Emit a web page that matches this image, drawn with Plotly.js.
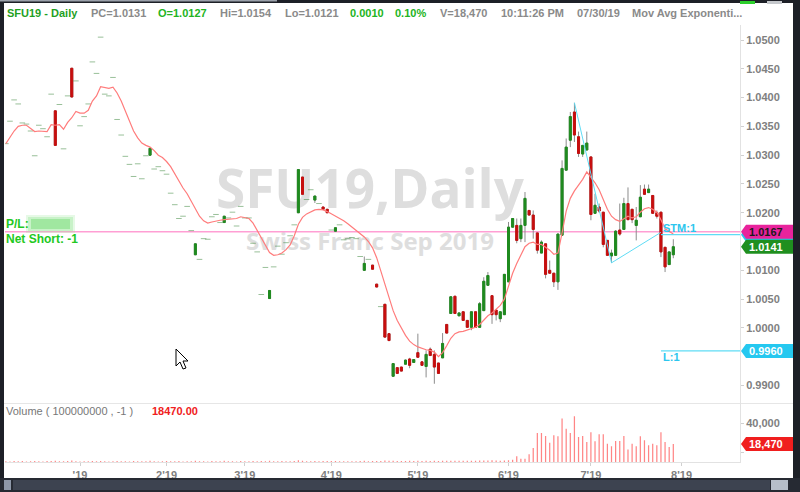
<!DOCTYPE html>
<html><head><meta charset="utf-8">
<script src="https://cdn.plot.ly/plotly-3.0.1.min.js"></script>
<style>html,body{margin:0;padding:0;background:#fff;overflow:hidden}#chart{width:800px;height:492px}</style>
</head><body><div id="chart"></div>
<script>
// ---- trading days (day numbers per month) ----
const dec18=[5,6,7,10,11,12,13,14,17,18,19,20,21,24,26,27,28,31];
const jan19=[2,3,4,7,8,9,10,11,14,15,16,17,18,22,23,24,25,28,29,30,31];
const feb19=[1,4,5,6,7,8,11,12,13,14,15,19,20,21,22,25,26,27,28];
const mar19=[1,4,5,6,7,8,11,12,13,14,15,18,19,20,21,22,25,26,27,28,29];
const apr19=[1,2,3,4,5,8,9,10,11,12,15,16,17,18,22,23,24,25,26,29,30];
const may19=[1,2,3,6,7,8,9,10,13,14,15,16,17,20,21,22,23,24,28,29,30,31];
const jun19=[3,4,5,6,7,10,11,12,13,14,17,18,19,20,21,24,25,26,27,28];
const jul19=[1,2,3,5,8,9,10,11,12,15,16,17,18,19,22,23,24,25,26,29,30];
const holidays=['2018-12-25','2019-01-01','2019-01-21','2019-02-18','2019-04-19','2019-05-27','2019-07-04'];

const open=[1.0320,1.0359,1.0396,1.0389,1.0356,1.0354,1.0342,1.0299,1.0352,1.0346,
1.0332,1.0406,1.0377,1.0388,1.0311,1.0403,1.0451,1.0429,1.0351,1.0367,
1.0389,1.0462,1.0442,1.0505,1.0406,1.0403,1.0435,1.0362,1.0335,1.0298,
1.0284,1.0263,1.0285,1.0259,1.0299,1.0300,1.0276,1.0280,1.0273,1.0267,
1.0234,1.0214,1.0190,1.0194,1.0211,1.0169,1.0127,1.0119,1.0155,1.0154,
1.0193,1.0197,1.0183,1.0183,1.0191,1.0201,1.0177,1.0211,1.0191,1.0191,
1.0147,1.0132,1.0058,1.0105,1.0051,1.0106,1.0142,1.0128,1.0148,1.0160,
1.0179,1.0200,1.0262,1.0223,1.0240,1.0222,1.0216,1.0210,1.0206,1.0170,
1.0168,1.0179,1.0153,1.0155,1.0157,1.0155,1.0124,1.0100,1.0119,1.0109,
1.0076,1.0037,1.0041,0.9990,0.9916,0.9931,0.9932,0.9937,0.9946,0.9940,
0.9957,0.9941,0.9933,0.9963,0.9954,0.9939,0.9948,1.0006,1.0025,1.0055,
1.0021,1.0028,1.0013,1.0001,1.0028,1.0001,1.0030,1.0074,1.0056,1.0031,
1.0016,1.0023,1.0080,1.0175,1.0178,1.0155,1.0178,1.0204,1.0196,1.0165,
1.0130,1.0146,1.0100,1.0095,1.0080,1.0161,1.0274,1.0326,1.0375,1.0332,
1.0302,1.0309,1.0297,1.0199,1.0210,1.0201,1.0152,1.0125,1.0126,1.0170,
1.0171,1.0216,1.0206,1.0178,1.0193,1.0241,1.0235,1.0230,1.0200,1.0201,
1.0140,1.0110,1.0127];
const high=[1.0320,1.0359,1.0396,1.0389,1.0356,1.0354,1.0342,1.0299,1.0352,1.0346,
1.0332,1.0406,1.0377,1.0388,1.0311,1.0403,1.0451,1.0429,1.0351,1.0367,
1.0389,1.0462,1.0442,1.0505,1.0406,1.0403,1.0435,1.0362,1.0335,1.0298,
1.0284,1.0263,1.0285,1.0259,1.0299,1.0312,1.0276,1.0280,1.0273,1.0267,
1.0234,1.0214,1.0190,1.0194,1.0211,1.0169,1.0146,1.0119,1.0155,1.0154,
1.0193,1.0197,1.0183,1.0194,1.0191,1.0201,1.0177,1.0211,1.0191,1.0191,
1.0147,1.0132,1.0058,1.0105,1.0065,1.0106,1.0142,1.0128,1.0148,1.0160,
1.0179,1.0275,1.0262,1.0223,1.0240,1.0229,1.0216,1.0210,1.0206,1.0170,
1.0174,1.0179,1.0153,1.0155,1.0157,1.0155,1.0124,1.0124,1.0119,1.0109,
1.0076,1.0037,1.0041,0.9990,0.9938,0.9931,0.9932,0.9945,0.9948,0.9945,
0.9990,0.9941,0.9961,0.9966,0.9961,0.9939,0.9991,1.0006,1.0054,1.0055,
1.0026,1.0028,1.0013,1.0028,1.0028,1.0045,1.0088,1.0097,1.0056,1.0031,
1.0028,1.0093,1.0184,1.0190,1.0190,1.0190,1.0236,1.0204,1.0204,1.0165,
1.0152,1.0146,1.0117,1.0095,1.0163,1.0291,1.0329,1.0375,1.0391,1.0341,
1.0317,1.0341,1.0297,1.0233,1.0216,1.0201,1.0152,1.0136,1.0170,1.0216,
1.0226,1.0244,1.0206,1.0210,1.0248,1.0249,1.0249,1.0230,1.0204,1.0201,
1.0140,1.0132,1.0154];
const low=[1.0320,1.0359,1.0396,1.0389,1.0356,1.0354,1.0342,1.0299,1.0352,1.0346,
1.0332,1.0406,1.0317,1.0388,1.0311,1.0403,1.0401,1.0429,1.0351,1.0367,
1.0389,1.0462,1.0442,1.0505,1.0406,1.0403,1.0435,1.0362,1.0335,1.0298,
1.0284,1.0263,1.0285,1.0259,1.0299,1.0300,1.0276,1.0280,1.0273,1.0267,
1.0234,1.0214,1.0190,1.0194,1.0211,1.0169,1.0127,1.0119,1.0155,1.0154,
1.0193,1.0197,1.0183,1.0183,1.0191,1.0201,1.0177,1.0211,1.0191,1.0191,
1.0147,1.0132,1.0058,1.0105,1.0051,1.0106,1.0142,1.0128,1.0148,1.0160,
1.0179,1.0200,1.0232,1.0223,1.0240,1.0217,1.0216,1.0206,1.0200,1.0170,
1.0168,1.0179,1.0153,1.0155,1.0157,1.0155,1.0124,1.0100,1.0119,1.0102,
1.0071,1.0037,0.9984,0.9978,0.9916,0.9921,0.9925,0.9937,0.9930,0.9940,
0.9949,0.9935,0.9914,0.9952,0.9903,0.9921,0.9948,0.9991,1.0025,1.0025,
1.0021,1.0013,1.0001,0.9996,1.0001,1.0001,1.0030,1.0074,1.0007,1.0013,
1.0010,1.0023,1.0080,1.0175,1.0147,1.0149,1.0149,1.0196,1.0155,1.0129,
1.0130,1.0086,1.0095,1.0071,1.0066,1.0161,1.0274,1.0314,1.0323,1.0297,
1.0297,1.0309,1.0187,1.0199,1.0200,1.0140,1.0126,1.0113,1.0126,1.0160,
1.0171,1.0188,1.0182,1.0152,1.0193,1.0232,1.0235,1.0199,1.0190,1.0123,
1.0097,1.0110,1.0121];
const close=[1.0320,1.0359,1.0396,1.0389,1.0356,1.0354,1.0342,1.0299,1.0352,1.0346,
1.0332,1.0406,1.0317,1.0388,1.0311,1.0403,1.0401,1.0429,1.0351,1.0367,
1.0389,1.0462,1.0442,1.0505,1.0406,1.0403,1.0435,1.0362,1.0335,1.0298,
1.0284,1.0263,1.0285,1.0259,1.0299,1.0312,1.0276,1.0280,1.0273,1.0267,
1.0234,1.0214,1.0190,1.0194,1.0211,1.0169,1.0146,1.0119,1.0155,1.0154,
1.0193,1.0197,1.0183,1.0194,1.0191,1.0201,1.0177,1.0211,1.0191,1.0191,
1.0147,1.0132,1.0058,1.0105,1.0065,1.0106,1.0142,1.0128,1.0148,1.0160,
1.0179,1.0275,1.0232,1.0223,1.0240,1.0229,1.0216,1.0206,1.0200,1.0170,
1.0174,1.0179,1.0153,1.0155,1.0157,1.0155,1.0124,1.0112,1.0119,1.0102,
1.0071,1.0037,0.9984,0.9978,0.9938,0.9921,0.9925,0.9944,0.9935,0.9945,
0.9949,0.9935,0.9954,0.9952,0.9932,0.9921,0.9973,0.9991,1.0054,1.0025,
1.0026,1.0013,1.0001,1.0028,1.0001,1.0042,1.0081,1.0091,1.0023,1.0023,
1.0028,1.0093,1.0175,1.0190,1.0152,1.0178,1.0225,1.0196,1.0171,1.0135,
1.0149,1.0093,1.0095,1.0080,1.0163,1.0277,1.0314,1.0367,1.0335,1.0303,
1.0317,1.0321,1.0197,1.0213,1.0203,1.0145,1.0126,1.0130,1.0168,1.0163,
1.0216,1.0188,1.0188,1.0187,1.0227,1.0232,1.0241,1.0199,1.0194,1.0132,
1.0106,1.0132,1.0141];
const emaValues=[1.0320,1.0332,1.0342,1.0350,1.0352,1.0352,1.0346,1.0341,1.0342,1.0342,
1.0341,1.0353,1.0352,1.0353,1.0345,1.0357,1.0365,1.0376,1.0373,1.0373,
1.0378,1.0394,1.0403,1.0419,1.0417,1.0416,1.0418,1.0408,1.0394,1.0377,
1.0359,1.0342,1.0330,1.0321,1.0317,1.0314,1.0308,1.0300,1.0296,1.0289,
1.0280,1.0268,1.0254,1.0243,1.0233,1.0220,1.0205,1.0194,1.0186,1.0182,
1.0184,1.0186,1.0187,1.0188,1.0189,1.0189,1.0190,1.0193,1.0192,1.0190,
1.0182,1.0169,1.0155,1.0142,1.0131,1.0126,1.0127,1.0130,1.0136,1.0144,
1.0160,1.0180,1.0192,1.0198,1.0202,1.0205,1.0206,1.0205,1.0202,1.0198,
1.0195,1.0191,1.0186,1.0181,1.0175,1.0170,1.0164,1.0158,1.0150,1.0139,
1.0122,1.0100,1.0077,1.0054,1.0030,1.0013,0.9999,0.9987,0.9977,0.9971,
0.9967,0.9964,0.9962,0.9961,0.9958,0.9950,0.9957,0.9969,0.9982,0.9990,
0.9993,0.9994,0.9996,0.9999,1.0001,1.0006,1.0013,1.0021,1.0026,1.0032,
1.0039,1.0050,1.0072,1.0095,1.0112,1.0128,1.0141,1.0147,1.0149,1.0145,
1.0145,1.0140,1.0135,1.0128,1.0130,1.0165,1.0203,1.0225,1.0238,1.0248,
1.0258,1.0271,1.0262,1.0252,1.0240,1.0224,1.0206,1.0194,1.0188,1.0185,
1.0190,1.0194,1.0191,1.0193,1.0201,1.0207,1.0209,1.0206,1.0201,1.0188,
1.0172,1.0167,1.0163];
const volume=[800,600,1000,700,900,600,800,1100,700,600,
900,1000,1400,700,800,900,1500,700,600,800,
700,900,800,1000,700,600,800,900,700,800,
600,900,700,800,700,1200,800,600,700,900,
800,700,900,600,800,700,1300,800,700,600,
900,800,700,1200,800,700,600,900,800,700,
900,800,1000,700,1300,800,700,900,800,700,
900,1800,1400,800,700,1100,800,1000,1000,900,
1100,800,700,800,700,800,900,1200,800,1000,
1000,900,1500,1200,1300,1100,1000,1100,1200,1000,
1200,1000,1300,1100,1400,1100,1300,1200,1400,1300,
1200,1300,1200,1400,1300,1500,1600,1500,1800,1600,
1300,1500,1700,2400,5800,3400,3400,7900,14400,29800,
29800,26700,19800,27400,26300,44500,34200,29800,46900,25700,
26700,20500,30400,21200,28400,28400,18800,16100,21500,21500,
26700,12700,18800,16100,26300,22200,17100,18800,17100,30400,
20500,15400,18470];
const monthTickDates=['2019-01-02','2019-02-01','2019-03-01','2019-04-01','2019-05-01','2019-06-03','2019-07-01','2019-08-01'];
const monthTickLabels=["'19","2'19","3'19","4'19","5'19","6'19","7'19","8'19"];
const priceTicks=[0.9900,1.0000,1.0050,1.0100,1.0200,1.0250,1.0300,1.0350,1.0400,1.0450,1.0500];
const trendDates=['2019-06-25','2019-07-09','2019-07-25'];
const trendPrices=[1.0391,1.0113,1.0166];
const positionPrice=1.0167, stopPrice=1.0162, limitPrice=0.9960, lastPrice=1.0141, lastVolume=18470;

// ---- build x values (noon of each trading day) ----
const noon=d=>d+' 12:00';
const dates=[];
[['2018-12',dec18],['2019-01',jan19],['2019-02',feb19],['2019-03',mar19],['2019-04',apr19],['2019-05',may19],['2019-06',jun19],['2019-07',jul19]]
 .forEach(([m,ds])=>ds.forEach(d=>dates.push(noon(m+'-'+String(d).padStart(2,'0')))));

const isFlat=i=>open[i]===high[i]&&high[i]===low[i]&&low[i]===close[i];
const cIdx=[],fIdx=[];
dates.forEach((d,i)=>(isFlat(i)?fIdx:cIdx).push(i));
const pick=(arr,idx)=>idx.map(i=>arr[i]);

const GREEN='#1f8b1f', RED='#c70e0e';
const FONT='Liberation Sans, Arial, sans-serif';

const traces=[
 {type:'candlestick',x:pick(dates,cIdx),open:pick(open,cIdx),high:pick(high,cIdx),low:pick(low,cIdx),close:pick(close,cIdx),
  increasing:{line:{color:'#8c8c8c',width:1},fillcolor:GREEN},decreasing:{line:{color:'#8c8c8c',width:1},fillcolor:RED},
  whiskerwidth:0,hoverinfo:'skip',showlegend:false,xaxis:'x',yaxis:'y'},
 {type:'candlestick',x:pick(dates,cIdx),open:pick(open,cIdx),close:pick(close,cIdx),
  high:cIdx.map(i=>Math.max(open[i],close[i])),low:cIdx.map(i=>Math.min(open[i],close[i])),
  increasing:{line:{color:GREEN,width:1},fillcolor:GREEN},decreasing:{line:{color:RED,width:1},fillcolor:RED},
  whiskerwidth:0,hoverinfo:'skip',showlegend:false,xaxis:'x',yaxis:'y'},
 {type:'scatter',mode:'markers',x:pick(dates,fIdx),y:pick(close,fIdx),
  marker:{symbol:'line-ew',size:4,line:{width:1,color:'rgba(70,140,70,0.55)'}},hoverinfo:'skip',showlegend:false,xaxis:'x',yaxis:'y'},
 {type:'scatter',mode:'lines',x:dates,y:emaValues,line:{color:'#ff7c7c',width:1.2},hoverinfo:'skip',showlegend:false,xaxis:'x',yaxis:'y'},
 {type:'scatter',mode:'lines',x:trendDates.map(noon),y:trendPrices,line:{color:'#5fdcf5',width:1},hoverinfo:'skip',showlegend:false,xaxis:'x',yaxis:'y'},
 {type:'bar',x:dates,y:volume,width:0.3*86400000,marker:{color:'#ff8585',line:{width:0}},hoverinfo:'skip',showlegend:false,xaxis:'x',yaxis:'y2'}
];

// ---- pixel helpers for decorations ----
const W=800,H=492,ML=5,MR=60,MT=25,MB=30,PW=W-ML-MR,PH=H-MT-MB;
const px=v=>(v-ML)/PW, py=v=>(H-MB-v)/PH;
const xRange=['2018-12-05 07:00','2019-08-21 16:30'];
const yRange=[0.98687,1.05261];
const volRange=[0,60000];

const rect=(x0,y0,x1,y1,fill,layer,op)=>({type:'rect',xref:'paper',yref:'paper',x0:px(x0),x1:px(x1),y0:py(y1),y1:py(y0),fillcolor:fill,line:{width:0},layer:layer||'above',opacity:op==null?1:op});
const hline=(y,x0,x1,color,w)=>({type:'line',xref:'paper',yref:'paper',x0:px(x0),x1:px(x1),y0:py(y),y1:py(y),line:{color:color,width:w||1},layer:'below'});
function tagShape(p,yref,color,h){
 const a=px(741),b=px(746),c=px(793);
 return {type:'path',xref:'paper',yref:yref,path:`M ${a},${p} L ${b},${p+h} L ${c},${p+h} L ${c},${p-h} L ${b},${p-h} Z`,fillcolor:color,line:{width:0},layer:'above'};
}
const priceH=0.00122, volH=7100;

const shapes=[
 // watermark
 {type:'rect',xref:'paper',yref:'paper',x0:px(190),x1:px(550),y0:py(219),y1:py(163),line:{width:0},fillcolor:'rgba(0,0,0,0)',layer:'below',
  label:{text:'SFU19,Daily',textposition:'middle center',font:{family:'Open Sans, Liberation Sans, Arial',size:53,color:'#dedede',weight:700}}},
 {type:'rect',xref:'paper',yref:'paper',x0:px(200),x1:px(540),y0:py(255),y1:py(229),line:{width:0},fillcolor:'rgba(0,0,0,0)',layer:'below',
  label:{text:'Swiss Franc Sep 2019',textposition:'middle center',font:{family:'Open Sans, Liberation Sans, Arial',size:24,color:'#dedede',weight:700}}},
 // position line
 {type:'line',xref:'paper',yref:'y',x0:0,x1:1,y0:positionPrice,y1:positionPrice,line:{color:'#ff9fd4',width:1.6},layer:'below'},
 {type:'line',xref:'x',yref:'y',x0:noon(trendDates[2]),x1:xRange[1],y0:stopPrice,y1:stopPrice,line:{color:'#5fdcf5',width:1.2},layer:'above'},
 {type:'line',xref:'x',yref:'y',x0:noon(trendDates[2]),x1:xRange[1],y0:limitPrice,y1:limitPrice,line:{color:'#5fdcf5',width:1.2},layer:'above'},
 // panel separators
 hline(403.5,0,793,'#e6e6e6',1),
 // price tags
 tagShape(stopPrice,'y','#25c8f0',priceH),
 tagShape(positionPrice,'y','#e8239c',priceH),
 tagShape(lastPrice,'y','#1f8f1f',priceH),
 tagShape(limitPrice,'y','#25c8f0',priceH),
 tagShape(lastVolume,'y2','#f01e1e',volH),
 // P/L blurred value
 rect(26,215,75,233,'#9be89b','above',0.25),
 rect(28,217,73,231,'#9be89b','above',0.4),
 rect(31,219,70,229,'#8ee28e','above',0.7),
 // frame
 rect(0,0,4,492,'#1d2027'),
 rect(793,0,800,492,'#1d2027'),
 rect(0,0,800,3,'#1d2027'),
 rect(0,0,277,1.5,'#9aa0aa'),
 rect(740,1,755,4,'#2ccf2c'),
 rect(767,1,782,4,'#c5c8cc'),
 rect(0,478,800,492,'#262a33'),
 rect(13,480,770,490,'#3d4350'),
 rect(4,480,11,490,'#8d97a8'),
 rect(771,480,788,490,'#b6bec9'),
 // mouse cursor
 {type:'path',xref:'paper',yref:'paper',path:`M ${px(176)},${py(349)} L ${px(176)},${py(366)} L ${px(180)},${py(362)} L ${px(183)},${py(369)} L ${px(186)},${py(368)} L ${px(183)},${py(361)} L ${px(188)},${py(361)} Z`,fillcolor:'#ffffff',line:{color:'#000',width:1},layer:'above'}
];

const A=(text,x,y,color,opt)=>Object.assign({text:text,xref:'paper',yref:'paper',x:px(x),y:py(y),xanchor:'left',yanchor:'middle',showarrow:false,
  font:{family:FONT,size:11,color:color,weight:700}},opt||{});
const GRAY='#8a8a8a', HG='#22b422', BG='#1fa01f';
const annotations=[
 A('SFU19 - Daily',5,13,BG), A('PC=1.0131',89,13,GRAY), A('O=1.0127',156,13,HG), A('Hi=1.0154',218,13,GRAY),
 A('Lo=1.0121',283,13,GRAY), A('0.0010',348,13,HG), A('0.10%',393,13,HG), A('V=18,470',438,13,GRAY),
 A('10:11:26 PM',499,13,GRAY), A('07/30/19',575,13,GRAY), A('Mov Avg Exponenti...',630,13,GRAY),
 A('P/L:',4,224,'#22c822',{font:{family:FONT,size:12,color:'#22c822',weight:700}}),
 A('Net Short: -1',4,239,'#22c822',{font:{family:FONT,size:12,color:'#22c822',weight:700}}),
 A('STM:1',661,228,'#2cc6ee'), A('L:1',661,357,'#2cc6ee'),
 A('Volume ( 100000000 , -1 )',4,411,'#777',{font:{family:FONT,size:11,color:'#777'}}),
 A('18470.00',150,411,'#f02020'),
 {text:'1.0167',xref:'paper',yref:'y',x:px(747),y:positionPrice,xanchor:'left',yanchor:'middle',showarrow:false,font:{family:FONT,size:11,color:'#1a1a1a',weight:700}},
 {text:'1.0141',xref:'paper',yref:'y',x:px(747),y:lastPrice,xanchor:'left',yanchor:'middle',showarrow:false,font:{family:FONT,size:11,color:'#ffffff',weight:700}},
 {text:'0.9960',xref:'paper',yref:'y',x:px(747),y:limitPrice,xanchor:'left',yanchor:'middle',showarrow:false,font:{family:FONT,size:11,color:'#ffffff',weight:700}},
 {text:'18,470',xref:'paper',yref:'y2',x:px(747),y:lastVolume,xanchor:'left',yanchor:'middle',showarrow:false,font:{family:FONT,size:11,color:'#ffffff',weight:700}}
];

const tickFont={family:FONT,size:11,color:'#808080',weight:700};
const layout={
 width:W,height:H,margin:{l:ML,r:MR,t:MT,b:MB},paper_bgcolor:'#fff',plot_bgcolor:'#fff',
 showlegend:false,hovermode:false,dragmode:false,
 xaxis:{type:'date',range:xRange,anchor:'y2',rangeslider:{visible:false},
  rangebreaks:[{bounds:['sat','mon']},{values:holidays}],
  tickvals:monthTickDates.map(noon),ticktext:monthTickLabels,tickfont:tickFont,
  showgrid:false,zeroline:false,showline:true,linecolor:'#e2e2e2',ticks:'outside',ticklen:3,tickcolor:'#d0d0d0'},
 yaxis:{domain:[py(403.5),1],range:yRange,side:'right',anchor:'x',tickvals:priceTicks,tickformat:'.4f',tickfont:tickFont,
  showgrid:false,zeroline:false,showline:true,linecolor:'#e2e2e2',ticks:'outside',ticklen:3,tickcolor:'#d0d0d0'},
 yaxis2:{domain:[0,py(403.5)],range:volRange,side:'right',anchor:'x',tickvals:[10000,40000],ticktext:['','40,000'],tickfont:tickFont,
  showgrid:false,zeroline:false,showline:true,linecolor:'#e2e2e2',ticks:'outside',ticklen:3,tickcolor:'#d0d0d0'},
 shapes:shapes,annotations:annotations
};
Plotly.newPlot('chart',traces,layout,{displayModeBar:false,staticPlot:true});
</script></body></html>
